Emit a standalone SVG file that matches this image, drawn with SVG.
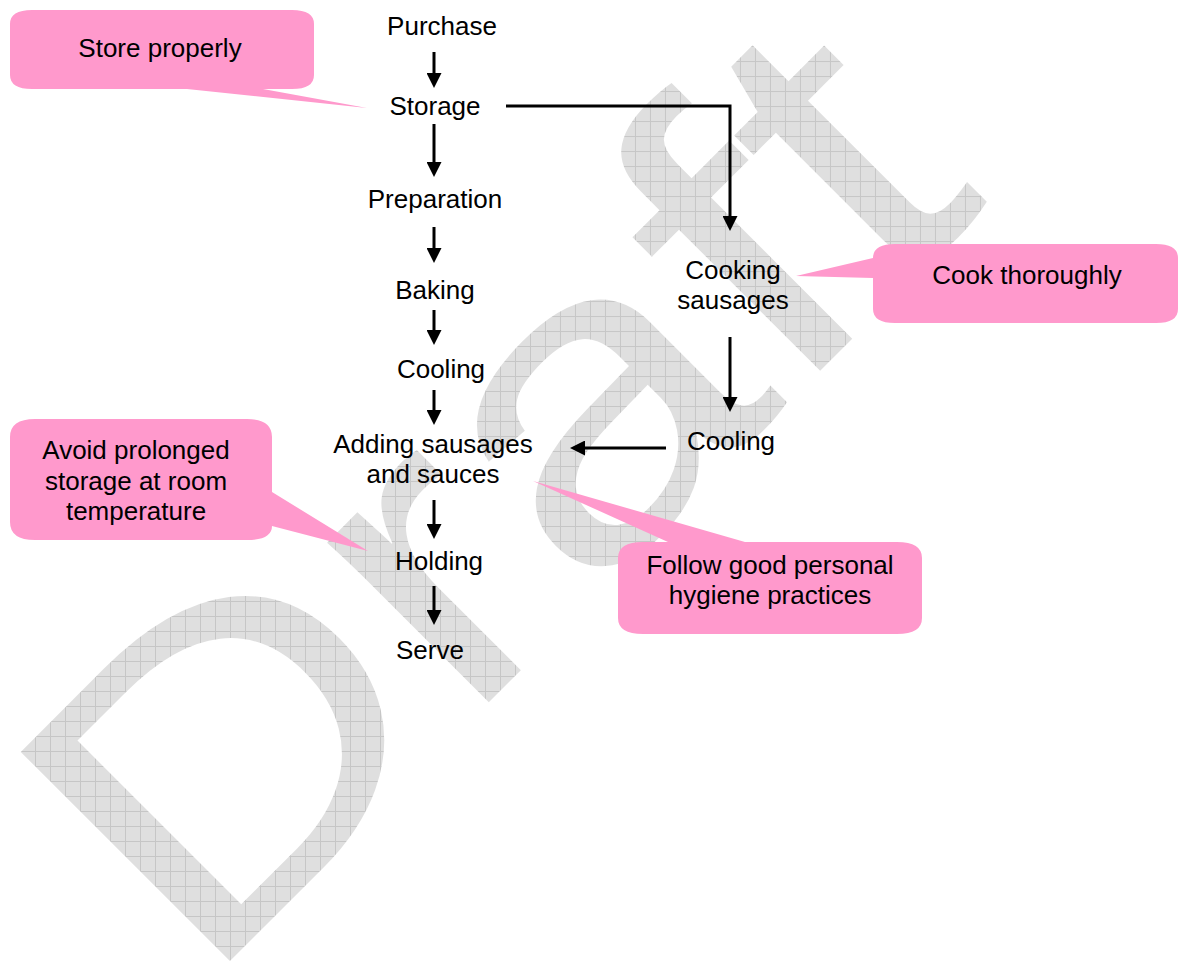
<svg xmlns="http://www.w3.org/2000/svg" width="1180" height="965" viewBox="0 0 1180 965">
<defs>
<pattern id="grid" patternUnits="userSpaceOnUse" width="15" height="15" patternTransform="scale(0.8333,1) rotate(45)">
<rect width="15" height="15" fill="#dfdfdf"/>
<path d="M0,0.5 H15 M0.5,0 V15" stroke="#c6c6c6" stroke-width="1" fill="none"/>
</pattern>
<marker id="ah" markerUnits="userSpaceOnUse" markerWidth="15" markerHeight="15" viewBox="0 0 15 15" refX="0" refY="7.5" orient="auto">
<path d="M0,0 L15,7.5 L0,15 Z" fill="#000"/>
</marker>
<style>
.lbl{font-family:"Liberation Sans",Arial,Helvetica,sans-serif;font-size:26px;fill:#000;text-anchor:middle}
.call{fill:#ff99cc}
.conn{stroke:#000;stroke-width:3;fill:none}
.wm{font-family:"Liberation Sans",Arial,Helvetica,sans-serif;font-size:430px;fill:url(#grid)}
</style>
</defs>
<g id="watermark">
<text class="wm" transform="translate(200,991) rotate(-45) scale(1.2,1)" x="0" y="0">Draft</text>
</g>
<g id="callouts">
<g id="c-store"><path class="call" d="M32,10 H292 Q314,10 314,24 V75 Q314,89 292,89 H263 L367,108 L187,89 H32 Q10,89 10,75 V24 Q10,10 32,10 Z"/><text class="lbl" x="160" y="57">Store properly</text></g>
<g id="c-cook"><path class="call" d="M895,244 H1156 Q1178,244 1178,258 V309 Q1178,323 1156,323 H895 Q873,323 873,309 V278 L796,276 L873,258 Q873,244 895,244 Z"/><text class="lbl" x="1027" y="284">Cook thoroughly</text></g>
<g id="c-avoid"><path class="call" d="M35,419 H247 Q272,419 272,437 V492 L368,551 L272,526 Q272,540 247,540 H35 Q10,540 10,522 V437 Q10,419 35,419 Z"/><text class="lbl" x="136" y="459">Avoid prolonged</text><text class="lbl" x="136" y="490">storage at room</text><text class="lbl" x="136" y="520">temperature</text></g>
<g id="c-follow"><path class="call" d="M643,542 H668 L533,481 L745,542 H897 Q922,542 922,558 V618 Q922,634 897,634 H643 Q618,634 618,618 V558 Q618,542 643,542 Z"/><text class="lbl" x="770" y="574">Follow good personal</text><text class="lbl" x="770" y="604">hygiene practices</text></g>
</g>
<g id="connectors">
<path class="conn" d="M434,52 V73" marker-end="url(#ah)"/>
<path class="conn" d="M434,124 V162" marker-end="url(#ah)"/>
<path class="conn" d="M434,227 V248" marker-end="url(#ah)"/>
<path class="conn" d="M434,310 V330" marker-end="url(#ah)"/>
<path class="conn" d="M434,390 V410" marker-end="url(#ah)"/>
<path class="conn" d="M434,500 V524" marker-end="url(#ah)"/>
<path class="conn" d="M434,586 V610" marker-end="url(#ah)"/>
<path class="conn" d="M506,106 H730 V216" marker-end="url(#ah)"/>
<path class="conn" d="M730,337 V397" marker-end="url(#ah)"/>
<path class="conn" d="M666,448 H585" marker-end="url(#ah)"/>
</g>
<g id="n-purchase"><text class="lbl" x="442" y="35">Purchase</text></g>
<g id="n-storage"><text class="lbl" x="435" y="115">Storage</text></g>
<g id="n-preparation"><text class="lbl" x="435" y="208">Preparation</text></g>
<g id="n-baking"><text class="lbl" x="435" y="299">Baking</text></g>
<g id="n-cooling1"><text class="lbl" x="441" y="378">Cooling</text></g>
<g id="n-adding"><text class="lbl" x="433" y="453">Adding sausages</text><text class="lbl" x="433" y="483">and sauces</text></g>
<g id="n-holding"><text class="lbl" x="439" y="570">Holding</text></g>
<g id="n-serve"><text class="lbl" x="430" y="659">Serve</text></g>
<g id="n-cooking"><text class="lbl" x="733" y="279">Cooking</text><text class="lbl" x="733" y="309">sausages</text></g>
<g id="n-cooling2"><text class="lbl" x="731" y="450">Cooling</text></g>
</svg>
